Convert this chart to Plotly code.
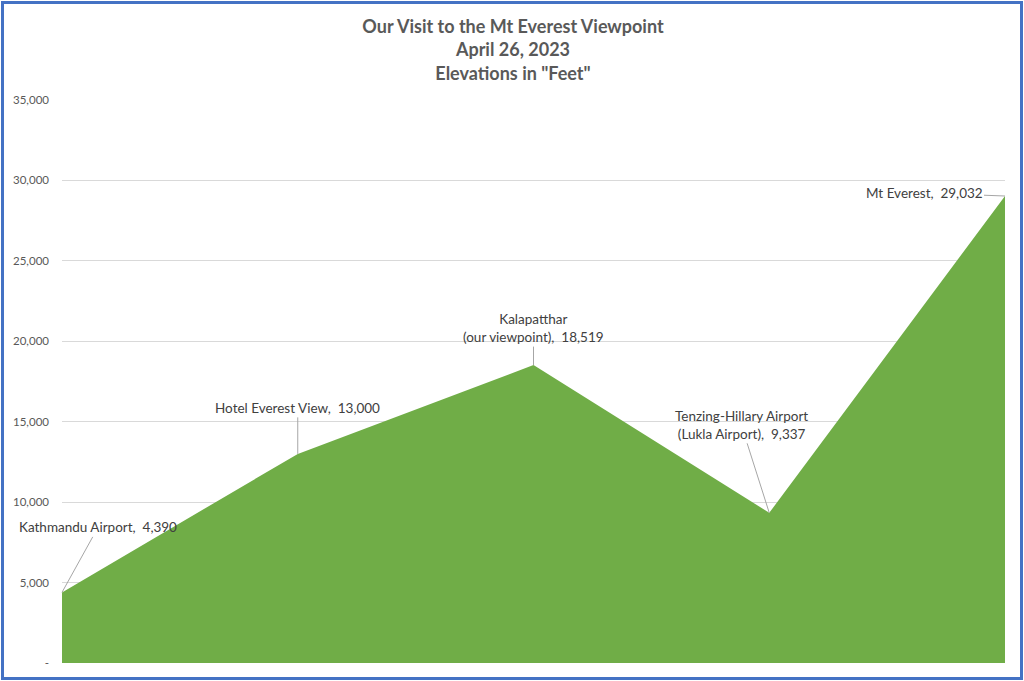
import plotly.graph_objects as go

places = ["Kathmandu Airport", "Hotel Everest View", "Kalapatthar<br>(our viewpoint)",
          "Tenzing-Hillary Airport<br>(Lukla Airport)", "Mt Everest"]
elevations = [4390, 13000, 18519, 9337, 29032]
tick_vals = [0, 5000, 10000, 15000, 20000, 25000, 30000, 35000]
tick_text = ["-", "5,000", "10,000", "15,000", "20,000", "25,000", "30,000", "35,000"]
label_offsets = [(36, -65), (0, -46), (0, -37), (-28, -88), (-81, -3)]

W, H = 1024, 681
L, R, T, B = 62, 19, 100, 18

xs = list(range(len(places)))
fig = go.Figure()
fig.add_trace(go.Scatter(x=xs, y=elevations, mode="lines", fill="tozeroy",
                         line=dict(color="#70AD47", width=0), fillcolor="#70AD47",
                         hoverinfo="skip", showlegend=False))

for i, (p, v) in enumerate(zip(places, elevations)):
    ax, ay = label_offsets[i]
    fig.add_annotation(x=i, y=v, xref="x", yref="y", text=f"{p},  {v:,}",
                       showarrow=True, arrowhead=0, arrowwidth=1, arrowcolor="#A6A6A6",
                       ax=ax, ay=ay, font=dict(family="Lato, Open Sans, sans-serif", size=13.5, color="#404040"),
                       align="center")

pw = W - L - R
ph = H - T - B
def px(x):
    return (x - L) / pw
def py(y):
    return (H - B - y) / ph

fig.add_shape(type="rect", xref="paper", yref="paper",
              x0=px(2.5), x1=px(W - 2.5), y0=py(H - 2.5), y1=py(2.5),
              line=dict(color="#4472C4", width=3), fillcolor="rgba(0,0,0,0)", layer="above")

fig.update_layout(
    width=W, height=H,
    margin=dict(l=L, r=R, t=T, b=B),
    paper_bgcolor="white", plot_bgcolor="white",
    title=dict(text="Our Visit to the Mt Everest Viewpoint<br>April 26, 2023<br>Elevations in \"Feet\"",
               x=513 / W, xanchor="center", y=1 - 33 / H, yanchor="top",
               font=dict(family="Lato, Open Sans, sans-serif", size=18, color="#595959", weight="bold")),
    xaxis=dict(range=[0, 4], showgrid=False, showticklabels=False, zeroline=False, showline=False,
               fixedrange=True),
    yaxis=dict(range=[0, 35000], tickvals=tick_vals, ticktext=tick_text, showgrid=True,
               gridcolor="#D9D9D9", gridwidth=1, zeroline=False, showline=False,
               tickfont=dict(family="Lato, Open Sans, sans-serif", size=11.5, color="#595959"),
               ticks="", ticklabelstandoff=12),
)

fig.write_html("out.html", config={"displayModeBar": False},
               post_script="document.body.style.margin='0';document.body.style.overflow='hidden';")
